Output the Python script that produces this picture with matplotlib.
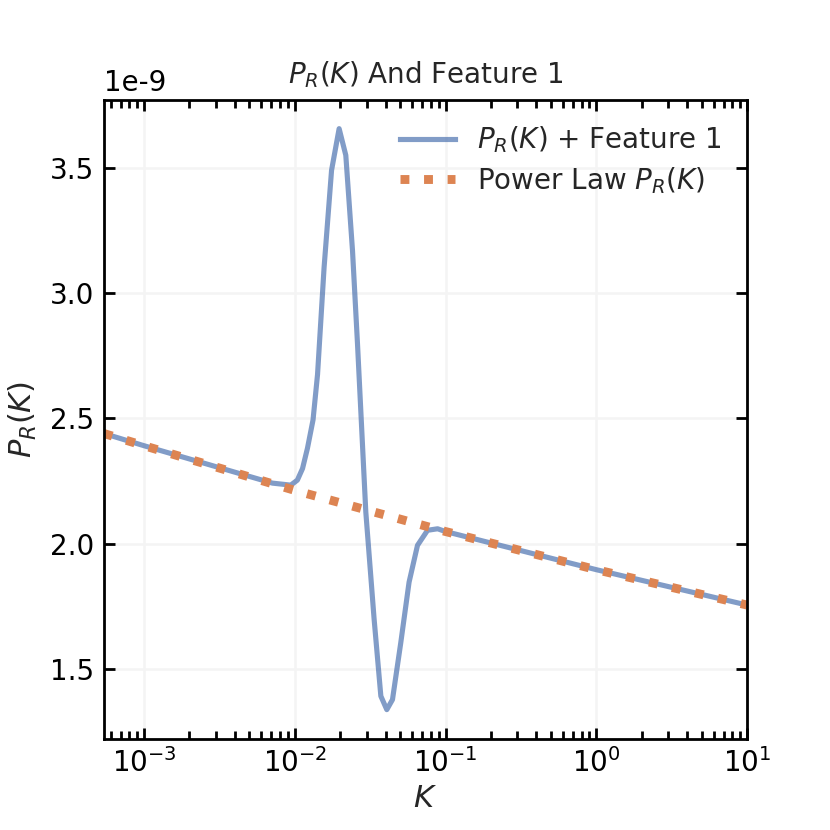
import numpy as np
import matplotlib
matplotlib.use("Agg")
import matplotlib.pyplot as plt

# wavenumbers and spectrum with the feature (values in units of 1e-9)
k_feature = [5.4e-4, 1e-3, 7.1e-3, 9.4e-3, 0.0104, 0.01125, 0.01213, 0.01321,
             0.01415, 0.01564, 0.01753, 0.01968, 0.02179, 0.02414, 0.02606,
             0.02784, 0.02958, 0.03358, 0.03722, 0.04077, 0.04446, 0.05047,
             0.05728, 0.06515, 0.07595, 0.0886, 0.1, 1.0, 10.0]
p_feature = [2.440, 2.391, 2.242, 2.234, 2.254, 2.300, 2.381, 2.494,
             2.675, 3.102, 3.489, 3.655, 3.549, 3.169, 2.796,
             2.447, 2.127, 1.700, 1.393, 1.339, 1.379, 1.606,
             1.847, 1.994, 2.054, 2.060, 2.049, 1.897, 1.756]

# plain power law
k_power = [5.4e-4, 1e-3, 1e-2, 1e-1, 1.0, 10.0]
p_power = [2.440, 2.391, 2.213, 2.049, 1.897, 1.756]

scale = 1e-9

plt.rcParams["axes.unicode_minus"] = False
plt.rcParams["font.family"] = "DejaVu Sans"

fig, ax = plt.subplots(figsize=(4.15, 4.15), dpi=200)

ax.plot(k_feature, np.array(p_feature) * scale, color="#4C72B0", alpha=0.7,
        lw=1.85, label=r"$P_R(K)$ + Feature 1")
ax.plot(k_power, np.array(p_power) * scale, color="#DD8452", lw=3.2,
        ls=":", label=r"Power Law $P_R(K)$")

ax.set_xscale("log")
ax.set_xlim(k_feature[0], k_feature[-1])

ax.set_title(r"$P_R(K)$ And Feature 1", fontsize=10, color="#262626")
ax.set_xlabel(r"$K$", fontsize=11, color="#262626", labelpad=2)
ax.set_ylabel(r"$P_R(K)$", fontsize=11, color="#262626")

ax.grid(True, which="major", color="#f4f4f4", lw=0.9)
ax.set_axisbelow(True)

ax.tick_params(which="both", direction="in", top=True, right=True, width=1, colors="black")
ax.tick_params(which="major", length=4, labelsize=10)
ax.tick_params(which="minor", length=2.8)
for s in ax.spines.values():
    s.set_linewidth(1.0)

leg = ax.legend(loc="upper right", frameon=False, fontsize=10, labelspacing=0.35)
for t in leg.get_texts():
    t.set_color("#262626")

fig.savefig("out.png", dpi=200)
